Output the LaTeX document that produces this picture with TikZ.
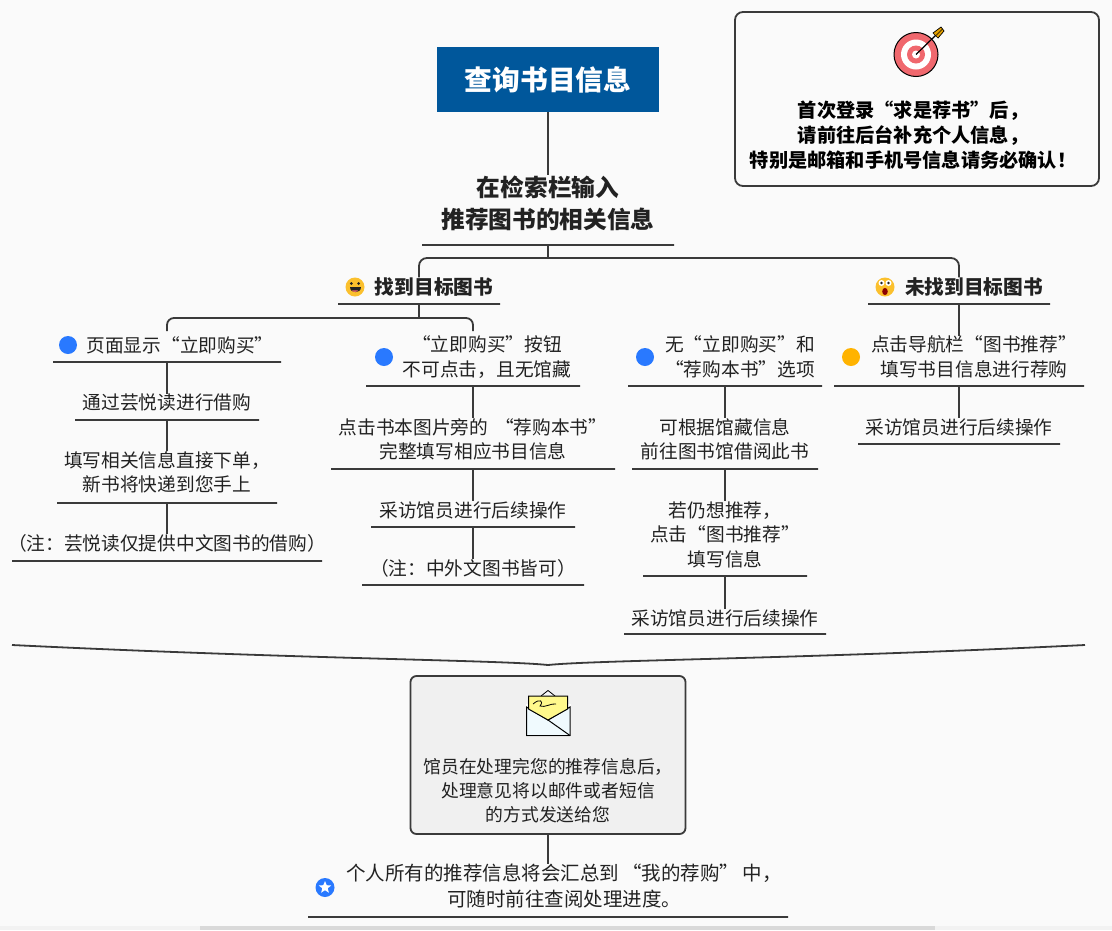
\documentclass[tikz,border=0pt]{standalone}
\usepackage{fontspec}
\setmainfont{Noto Sans CJK SC}
\definecolor{bgc}{HTML}{FAFAFA}
\definecolor{linec}{HTML}{3A3A3A}
\definecolor{txtc}{HTML}{222222}
\definecolor{titlec}{HTML}{00579B}
\definecolor{bluec}{HTML}{2979FF}
\definecolor{orangec}{HTML}{FFB300}
\definecolor{emojic}{HTML}{FBC02D}
\definecolor{redc}{HTML}{F0686E}
\tikzset{
  body/.style={inner sep=0pt,align=center,text=txtc,font=\fontsize{18.7}{24.5}\selectfont},
  boxtext/.style={inner sep=0pt,align=center,text=txtc,font=\fontsize{17.8}{24}\selectfont},
  finaltext/.style={inner sep=0pt,align=center,text=txtc,font=\fontsize{19.5}{26}\selectfont},
  sub/.style={inner sep=0pt,align=center,text=txtc,font=\fontsize{19.7}{25}\selectfont\bfseries},
  lead/.style={inner sep=0pt,align=center,text=txtc,font=\fontsize{23.7}{32}\selectfont\bfseries},
  notetext/.style={inner sep=0pt,align=center,text=black,font=\fontsize{19.2}{25}\selectfont\bfseries},
  uline/.style={draw=linec,line width=1.8pt,rectangle,inner sep=0pt,minimum height=0pt},
  conn/.style={draw=linec,line width=1.8pt},
  bullet/.style={circle,inner sep=0pt,minimum size=18pt,fill=#1},
}
\newcommand{\ul}[4]{\node[uline,minimum width={(#3)-(#2)}] (#1) at ({((#2)+(#3))/2},#4) {};}
\begin{document}
\begin{tikzpicture}[x=1pt,y=-1pt]
\useasboundingbox (0,0) rectangle (1112,930);
\fill[bgc] (0,0) rectangle (1112,930);
\fill[black!5] (0,926) rectangle (1112,930);
\fill[black!15] (200,926) rectangle (935,930);

% title
\node[rectangle,fill=titlec,text=white,minimum width=222pt,minimum height=65pt,inner sep=0pt,font=\fontsize{27.7}{32}\selectfont\bfseries] (title) at (548,79.5) {查询书目信息};
\node[lead] (lead) at (548,203) {在检索栏输入\\推荐图书的相关信息};
\ul{leadl}{422}{674}{245}
\draw[conn] (title) -- (title.south |- lead.north);

% level two
\node[sub] (found) at (434,287) {找到目标图书};
\ul{foundl}{338}{500}{304}
\node[sub] (nfound) at (974,287) {未找到目标图书};
\ul{nfoundl}{868}{1050}{304}
\coordinate (j1) at (548,258);
\draw[conn] (leadl.center) -- (j1);
\draw[conn,rounded corners=8pt] (foundl.center |- found.north) -- (foundl.center |- j1) -- (nfoundl.center |- j1) -- (nfoundl.center |- nfound.north);

% emoji smile
\node[circle,inner sep=0pt,minimum size=19pt,fill=emojic] (smile) at (355,287) {};
\fill[txtc] (351.3,283.5) circle (1.5);
\fill[txtc] (358.7,283.5) circle (1.5);
\fill[txtc] (349.5,286.5) -- (360.5,286.5) .. controls (360.5,294) and (349.5,294) .. cycle;
\fill[redc] (351.8,290.3) -- (358.2,290.3) .. controls (357,292.4) and (353,292.4) .. cycle;
% emoji shock
\node[circle,inner sep=0pt,minimum size=19pt,fill=emojic] (shock) at (885,287) {};
\fill[white] (881.5,283) circle (3);
\fill[white] (888.5,283) circle (3);
\fill[txtc] (881.5,283) circle (1.3);
\fill[txtc] (888.5,283) circle (1.3);
\fill[red!55!black] (885,291.5) ellipse [x radius=2.8,y radius=3.6];

% column headers
\node[body] (a1) at (180,345) {页面显示“立即购买”};
\ul{a1l}{53}{281}{362}
\node[body] (b1) at (487,357) {“立即购买”按钮\\不可点击，且无馆藏};
\ul{b1l}{366}{580}{386}
\node[body] (c1) at (740,357) {无“立即购买”和\\“荐购本书”选项};
\ul{c1l}{628}{822}{386}
\node[body] (d1) at (974,357) {点击导航栏“图书推荐”\\填写书目信息进行荐购};
\ul{d1l}{834}{1084}{386}

\coordinate (j2) at (419,318);
\coordinate (a1end) at (167,331);
\coordinate (b1end) at (473,331);
\draw[conn] (foundl.center) -- (j2);
\draw[conn,rounded corners=7pt] (a1end) -- (a1end |- j2) -- (b1end |- j2) -- (b1end);
\draw[conn] (nfoundl.center) -- (nfoundl.center |- d1.north);

\node[bullet=bluec] (a0) at (68,345) {};
\node[bullet=bluec] (b0) at (384,357) {};
\node[bullet=bluec] (c0) at (645,357) {};
\node[bullet=orangec] (d0) at (851,357) {};

% column a
\node[body] (a2) at (167,403) {通过芸悦读进行借购};
\ul{a2l}{75}{259}{420}
\node[body] (a3) at (167,472.5) {填写相关信息直接下单，\\新书将快递到您手上};
\ul{a3l}{57}{277}{503}
\node[body] (a4) at (167,543) {（注：芸悦读仅提供中文图书的借购）};
\ul{a4l}{12}{322}{561}
\draw[conn] (a1l.center) -- (a1l.center |- a2.north);
\draw[conn] (a2l.center) -- (a2l.center |- a3.north);
\draw[conn] (a3l.center) -- (a3l.center |- a4.north);

% column b
\node[body] (b2) at (473,439.5) {点击书本图片旁的\hspace{7pt}“荐购本书”\\完整填写相应书目信息};
\ul{b2l}{331}{615}{469}
\node[body] (b3) at (473,510) {采访馆员进行后续操作};
\ul{b3l}{371}{575}{527}
\node[body] (b4) at (473,568) {（注：中外文图书皆可）};
\ul{b4l}{362}{584}{585}
\draw[conn] (b1l.center) -- (b1l.center |- b2.north);
\draw[conn] (b2l.center) -- (b2l.center |- b3.north);
\draw[conn] (b3l.center) -- (b3l.center |- b4.north);

% column c
\node[body] (c2) at (725,439.5) {可根据馆藏信息\\前往图书馆借阅此书};
\ul{c2l}{632}{818}{469}
\node[body] (c3) at (725,534.5) {若仍想推荐，\\点击“图书推荐”\\填写信息};
\ul{c3l}{643}{807}{576}
\node[body] (c4) at (725,618) {采访馆员进行后续操作};
\ul{c4l}{624}{826}{634}
\draw[conn] (c1l.center) -- (c1l.center |- c2.north);
\draw[conn] (c2l.center) -- (c2l.center |- c3.north);
\draw[conn] (c3l.center) -- (c3l.center |- c4.north);

% column d
\node[body] (d2) at (959,427) {采访馆员进行后续操作};
\ul{d2l}{858}{1060}{444}
\draw[conn] (d1l.center) -- (d1l.center |- d2.north);

% summary brace
\coordinate (bl) at (12,645);
\coordinate (bm) at (548,665);
\coordinate (br) at (1085,645);
\draw[conn] (bl) .. controls (300,659) and (500,660) .. (bm) .. controls (596,660) and (800,659) .. (br);

% summary box
\node[draw=linec,line width=1.8pt,fill=black!6,rounded corners=6pt,minimum width=275pt,minimum height=158pt,inner sep=0pt] (sumbox) at (548,755) {};
\node[boxtext] (sumtext) at (548,791) {馆员在处理完您的推荐信息后，\\处理意见将以邮件或者短信\\的方式发送给您};
% envelope
\fill[white] (526,704) rectangle (571,737);
\draw[black,line width=.8pt,fill=black!3] (541,696) -- (548,690.5) -- (555,696);
\draw[black,line width=1pt,fill=cyan!6] (526.5,707) -- (526.5,735.5) -- (570,735.5) -- (570,707) -- (548,720) -- cycle;
\draw[black,line width=1pt,fill=yellow!45] (528.5,696) -- (567.5,696) -- (567.5,709) -- (548,720) -- (528.5,709) -- cycle;
\draw[black,line width=1pt] (548,720) -- (570,735.5);
\draw[black,line width=.8pt] (533,704) .. controls (540,698) and (544,701) .. (540,706) .. controls (545,708) and (551,703) .. (556,704);

% bottom note
\ul{sumline}{308}{788}{917}
\node[finaltext] (final) at (564,886) {个人所有的推荐信息将会汇总到\hspace{3.5pt}“我的荐购”\hspace{3.5pt}中，\\可随时前往查阅处理进度。};
\draw[conn] (sumbox.south) -- (sumbox.south |- final.north);
\node[bullet=bluec,minimum size=19pt] (star) at (325,887.5) {};
\fill[white] (325,881) -- (326.7,885.2) -- (331.2,885.5) -- (327.7,888.3) -- (328.9,892.7) -- (325,890.2) -- (321.1,892.7) -- (322.3,888.3) -- (318.8,885.5) -- (323.3,885.2) -- cycle;

% top-right note
\node[draw=linec,line width=1.8pt,fill=bgc,rounded corners=8pt,minimum width=364pt,minimum height=174pt,inner sep=0pt] (note) at (917,99) {};
\node[notetext] (notetxt) at (913,135) {首次登录“求是荐书”后，\\请前往后台补充个人信息，\\特别是邮箱和手机号信息请务必确认！};
% target
\fill[redc,draw=black,line width=1pt] (916,54.5) circle (22);
\fill[white] (916,54.5) circle (15);
\fill[redc] (916,54.5) circle (9);
\fill[white] (916,54.5) circle (4);
\draw[black,line width=1.2pt] (916,54.5) -- (937,34);
\fill[orangec!90!black,draw=black,line width=.7pt] (933,33) -- (941,27) -- (944,31) -- (938,38) -- cycle;
\draw[black,line width=.6pt] (936,35.5) -- (942.5,29);
\end{tikzpicture}
\end{document}
